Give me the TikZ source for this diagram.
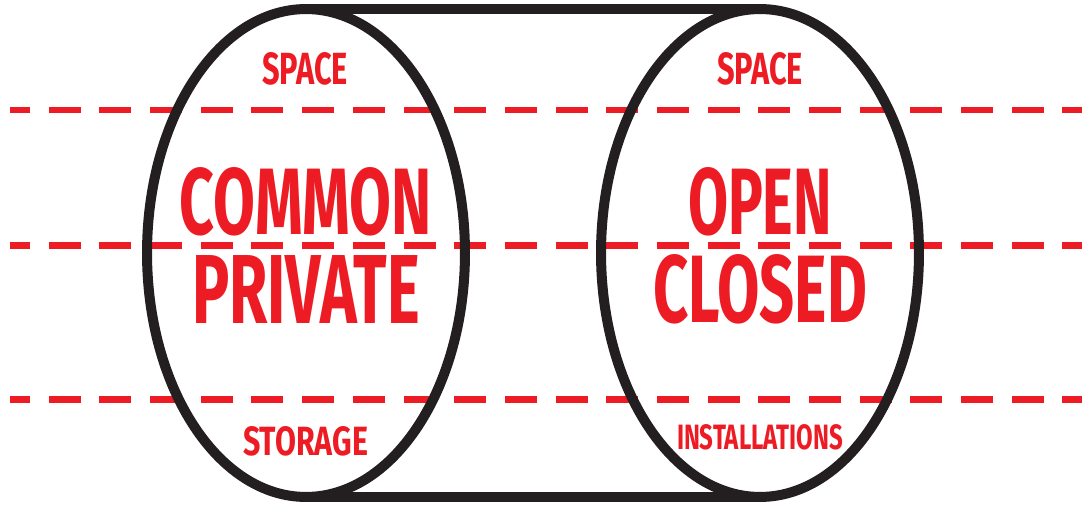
\documentclass[tikz,border=0pt]{standalone}
\usepackage{fontspec}
\setsansfont{Fira Sans}
\usepackage{graphicx}
\usepackage{xcolor}
\usepackage{tikz}
\usetikzlibrary{shapes.geometric}
\definecolor{figink}{RGB}{35,31,32}
\definecolor{figred}{RGB}{237,28,36}
\newcommand{\fitword}[3]{\resizebox{#1}{#2}{\sffamily\bfseries #3}}
\tikzset{
  cyl/.style ={draw=figink, line width=0.2cm, ellipse, minimum width=6.36cm, minimum height=9.76cm, inner sep=0pt, outer sep=0pt},
  rim/.style ={draw=figink, line width=0.2cm},
  dsh/.style ={draw=figred, line width=0.134cm, dash pattern=on 0.64cm off 0.374cm, dash phase=0.24cm},
  wrd/.style ={text=figred, inner sep=0pt},
}
\begin{document}
\begin{tikzpicture}[x=0.02cm,y=-0.02cm]
  \useasboundingbox (0,0) rectangle (1089,504);
  \foreach \y in {110,245.7,399.3}
    \draw[dsh] (10,\y) -- (1082,\y);
  \node[cyl] (lcyl) at (306,253) {};
  \node[cyl] (rcyl) at (760,253) {};
  \draw[rim] (lcyl.north) -- (rcyl.north);
  \draw[rim] (lcyl.south) -- (rcyl.south);
  % left end
  \node[wrd] (lspace) at (305,69) {\fitword{1.72cm}{0.64cm}{SPACE}};
  \node[wrd] (common) at (306,201.5) {\fitword{5.04cm}{1.34cm}{COMMON}};
  \node[wrd] (private) at (306,289) {\fitword{4.56cm}{1.36cm}{PRIVATE}};
  \node[wrd] (storage) at (305.5,441.5) {\fitword{2.5cm}{0.58cm}{STORAGE}};
  % right end
  \node[wrd] (rspace) at (760,69) {\fitword{1.72cm}{0.64cm}{SPACE}};
  \node[wrd] (open) at (760,201.5) {\fitword{2.88cm}{1.34cm}{OPEN}};
  \node[wrd] (closed) at (760,289) {\fitword{4.28cm}{1.36cm}{CLOSED}};
  \node[wrd] (install) at (760,437.5) {\fitword{3.32cm}{0.5cm}{INSTALLATIONS}};
\end{tikzpicture}
\end{document}
